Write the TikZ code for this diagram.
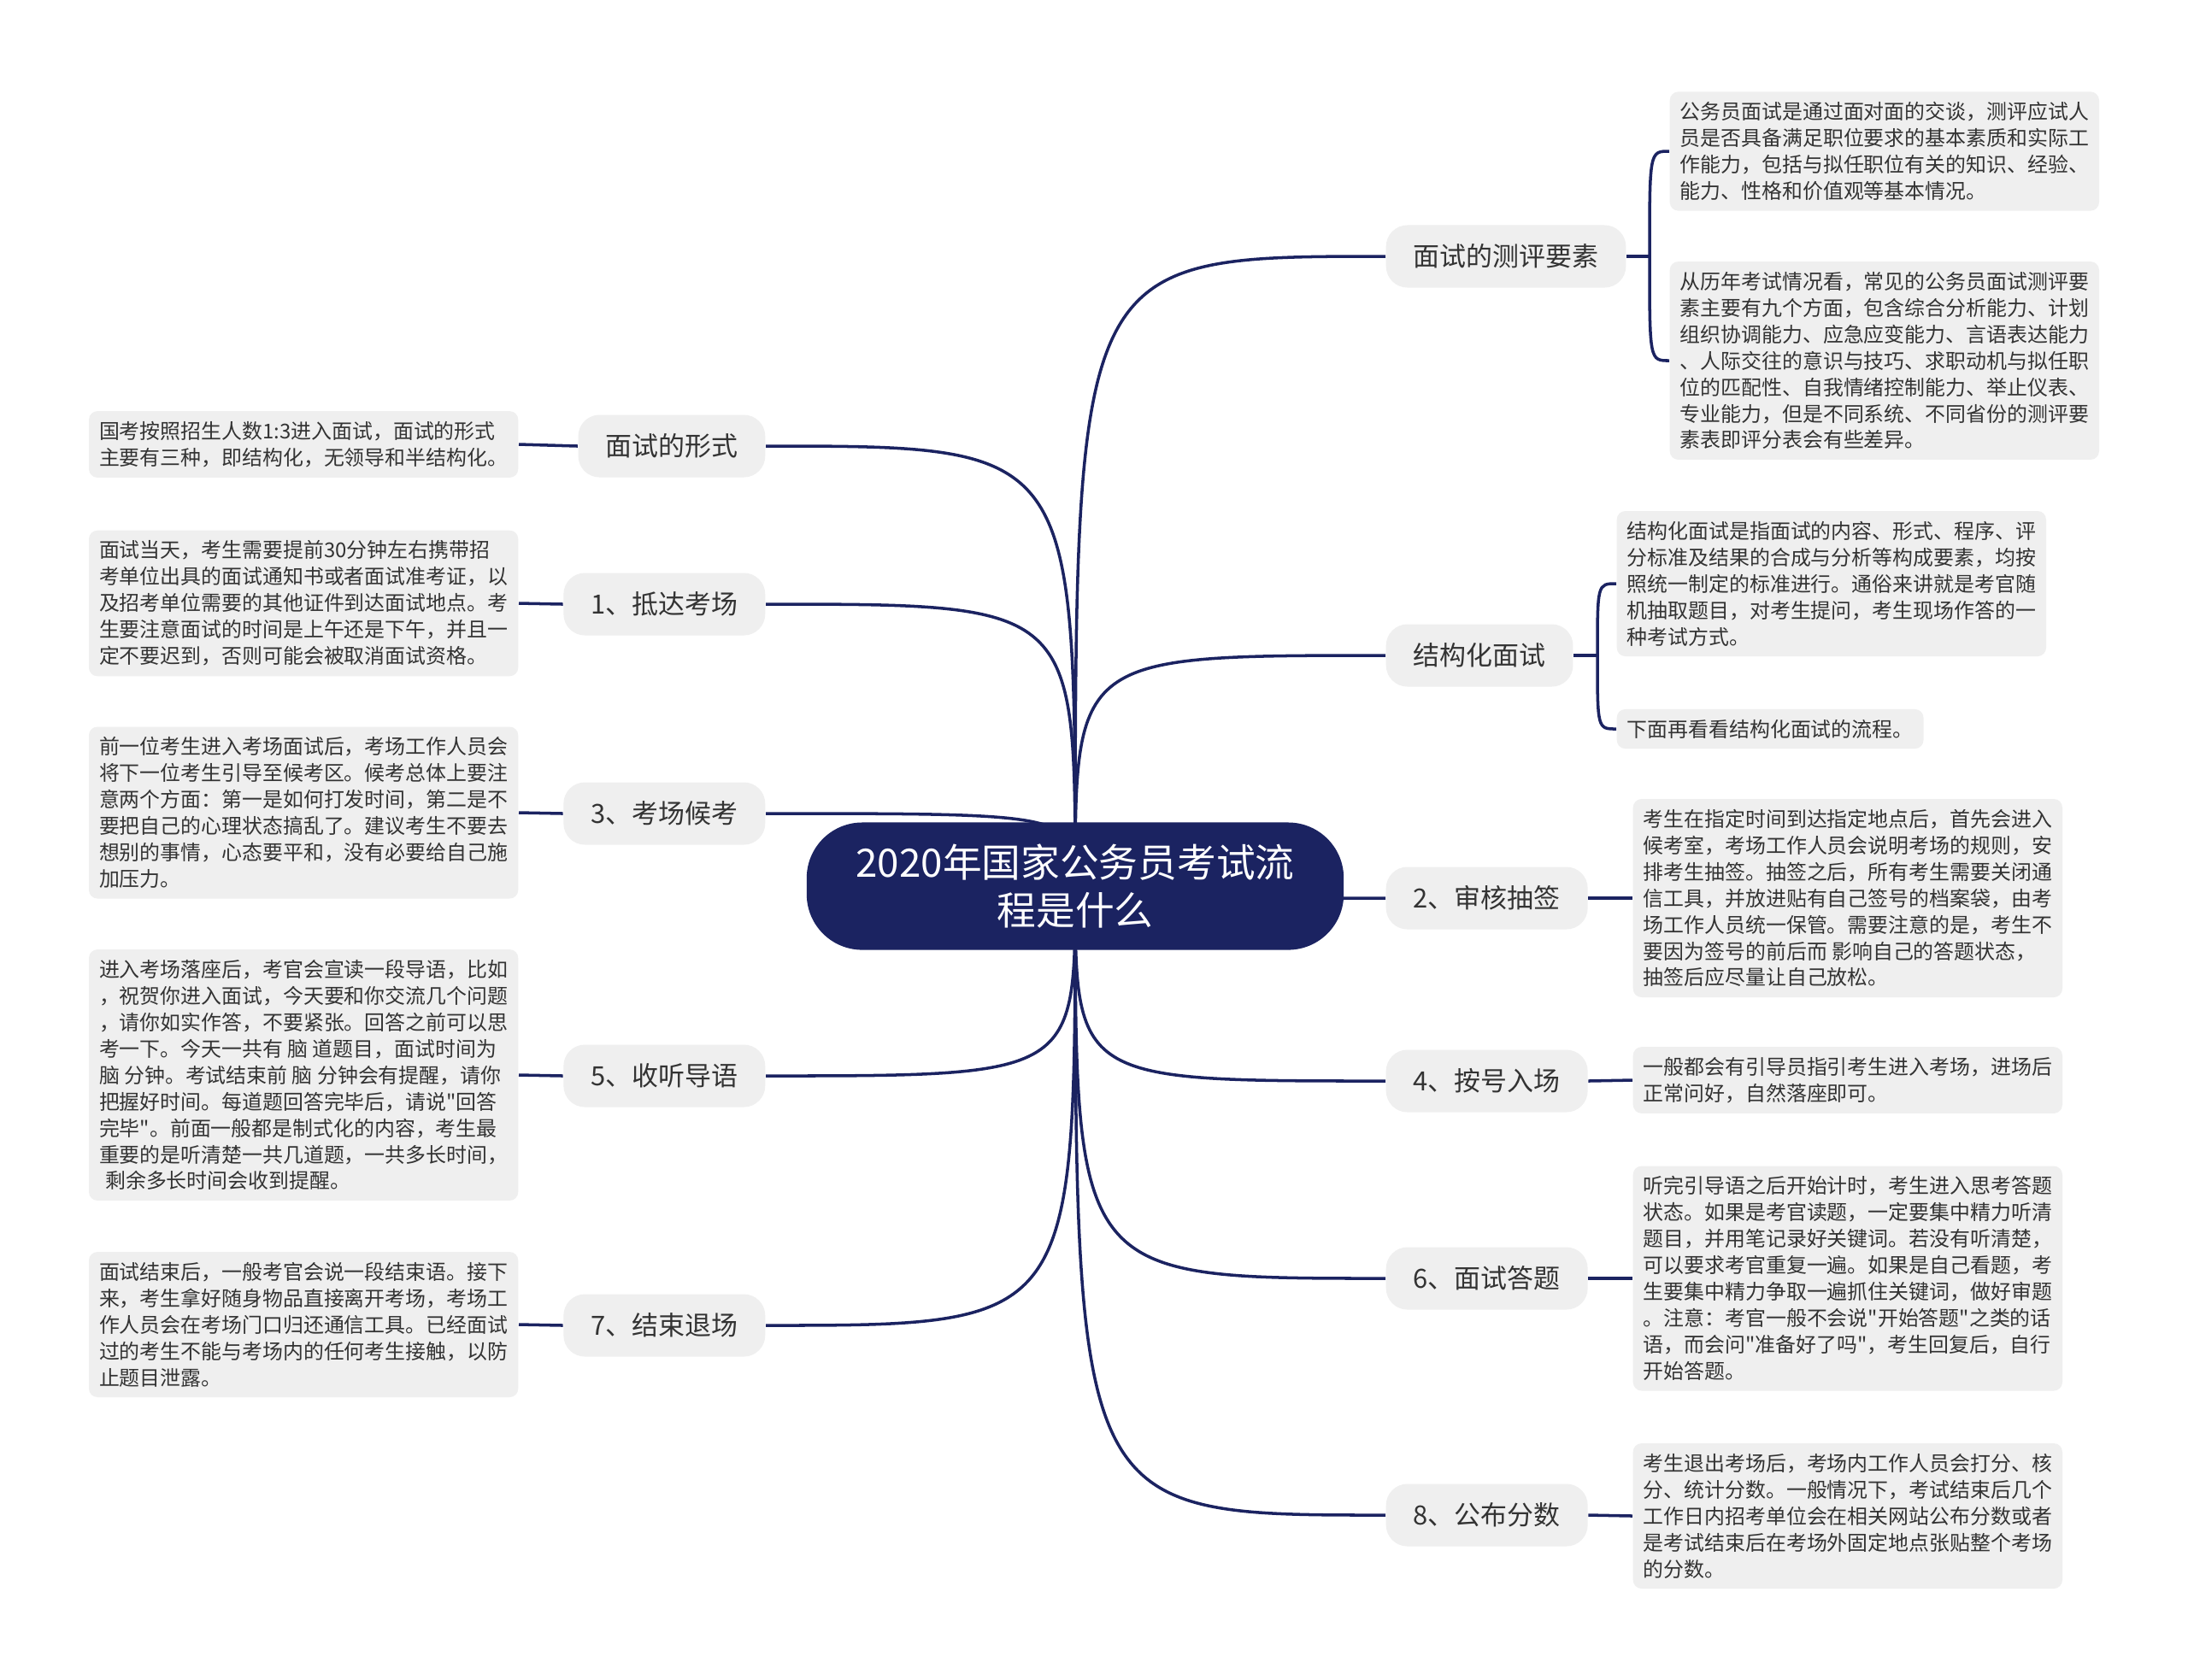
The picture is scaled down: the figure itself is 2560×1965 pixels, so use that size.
\documentclass[tikz,border=0pt]{standalone}
\usepackage{fontspec}
\setmainfont{Noto Sans CJK SC}[Ligatures=TeXOff]
\usetikzlibrary{backgrounds}
\definecolor{navy}{HTML}{1B2361}
\definecolor{boxgray}{HTML}{EFEFEF}
\definecolor{txtgray}{HTML}{333333}
\tikzset{
  rootbox/.style={fill=navy, text=white, rounded corners=0.65cm, align=center,
    minimum width=6.28cm, minimum height=1.49cm,
    font=\fontsize{13pt}{15.8pt}\selectfont},
  topic/.style={fill=boxgray, text=txtgray, rounded corners=0.25cm,
    minimum height=0.73cm, inner xsep=0.32cm,
    font=\fontsize{8.8pt}{10pt}\selectfont},
  leaf/.style={fill=boxgray, text=txtgray, rounded corners=0.1cm, align=left,
    inner sep=0.12cm, font=\fontsize{6.8pt}{8.8pt}\selectfont},
  conn/.style={draw=navy, line width=1pt}
}
\begin{document}
\begin{tikzpicture}[x=0.01cm, y=-0.01cm]
  \useasboundingbox (0,0) rectangle (2560,1965);

  \node[rootbox] (root) at (1258,1037) {2020年国家公务员考试流\\程是什么};

  % left topics
  \node[topic, anchor=east] (form)   at (896,522)  {面试的形式};
  \node[topic, anchor=east] (arrive) at (896,707)  {1、抵达考场};
  \node[topic, anchor=east] (wait)   at (896,952)  {3、考场候考};
  \node[topic, anchor=east] (listen) at (896,1259) {5、收听导语};
  \node[topic, anchor=east] (leave)  at (896,1551) {7、结束退场};

  % right topics
  \node[topic, anchor=west] (factor) at (1621,300)  {面试的测评要素};
  \node[topic, anchor=west] (struct) at (1621,767)  {结构化面试};
  \node[topic, anchor=west] (lots)   at (1621,1051) {2、审核抽签};
  \node[topic, anchor=west] (enter)  at (1621,1265) {4、按号入场};
  \node[topic, anchor=west] (answer) at (1621,1496) {6、面试答题};
  \node[topic, anchor=west] (score)  at (1621,1773) {8、公布分数};

  % left leaves
  \node[leaf, anchor=east] (form1) at (607,520) {国考按照招生人数1:3进入面试，面试的形式\\主要有三种，即结构化，无领导和半结构化。};
  \node[leaf, anchor=east] (arrive1) at (607,706) {面试当天，考生需要提前30分钟左右携带招\\考单位出具的面试通知书或者面试准考证，以\\及招考单位需要的其他证件到达面试地点。考\\生要注意面试的时间是上午还是下午，并且一\\定不要迟到，否则可能会被取消面试资格。};
  \node[leaf, anchor=east] (wait1) at (607,951) {前一位考生进入考场面试后，考场工作人员会\\将下一位考生引导至候考区。候考总体上要注\\意两个方面：第一是如何打发时间，第二是不\\要把自己的心理状态搞乱了。建议考生不要去\\想别的事情，心态要平和，没有必要给自己施\\加压力。};
  \node[leaf, anchor=east] (listen1) at (607,1258) {进入考场落座后，考官会宣读一段导语，比如\\，祝贺你进入面试，今天要和你交流几个问题\\，请你如实作答，不要紧张。回答之前可以思\\考一下。今天一共有 脑 道题目，面试时间为\\脑 分钟。考试结束前 脑 分钟会有提醒，请你\\把握好时间。每道题回答完毕后，请说"回答\\完毕"。前面一般都是制式化的内容，考生最\\重要的是听清楚一共几道题，一共多长时间，\\\hspace*{0.3em}剩余多长时间会收到提醒。};
  \node[leaf, anchor=east] (leave1) at (607,1550) {面试结束后，一般考官会说一段结束语。接下\\来，考生拿好随身物品直接离开考场，考场工\\作人员会在考场门口归还通信工具。已经面试\\过的考生不能与考场内的任何考生接触，以防\\止题目泄露。};

  % right leaves
  \node[leaf, anchor=west] (factor1) at (1953,177) {公务员面试是通过面对面的交谈，测评应试人\\员是否具备满足职位要求的基本素质和实际工\\作能力，包括与拟任职位有关的知识、经验、\\能力、性格和价值观等基本情况。};
  \node[leaf, anchor=west] (factor2) at (1953,422) {从历年考试情况看，常见的公务员面试测评要\\素主要有九个方面，包含综合分析能力、计划\\组织协调能力、应急应变能力、言语表达能力\\、人际交往的意识与技巧、求职动机与拟任职\\位的匹配性、自我情绪控制能力、举止仪表、\\专业能力，但是不同系统、不同省份的测评要\\素表即评分表会有些差异。};
  \node[leaf, anchor=west] (struct1) at (1891,683) {结构化面试是指面试的内容、形式、程序、评\\分标准及结果的合成与分析等构成要素，均按\\照统一制定的标准进行。通俗来讲就是考官随\\机抽取题目，对考生提问，考生现场作答的一\\种考试方式。};
  \node[leaf, anchor=west] (struct2) at (1891,853) {下面再看看结构化面试的流程。};
  \node[leaf, anchor=west] (lots1) at (1910,1051) {考生在指定时间到达指定地点后，首先会进入\\候考室，考场工作人员会说明考场的规则，安\\排考生抽签。抽签之后，所有考生需要关闭通\\信工具，并放进贴有自己签号的档案袋，由考\\场工作人员统一保管。需要注意的是，考生不\\要因为签号的前后而 影响自己的答题状态，\\抽签后应尽量让自己放松。};
  \node[leaf, anchor=west] (enter1) at (1910,1264) {一般都会有引导员指引考生进入考场，进场后\\正常问好，自然落座即可。};
  \node[leaf, anchor=west] (answer1) at (1910,1496) {听完引导语之后开始计时，考生进入思考答题\\状态。如果是考官读题，一定要集中精力听清\\题目，并用笔记录好关键词。若没有听清楚，\\可以要求考官重复一遍。如果是自己看题，考\\生要集中精力争取一遍抓住关键词，做好审题\\。注意：考官一般不会说"开始答题"之类的话\\语，而会问"准备好了吗"，考生回复后，自行\\开始答题。};
  \node[leaf, anchor=west] (score1) at (1910,1774) {考生退出考场后，考场内工作人员会打分、核\\分、统计分数。一般情况下，考试结束后几个\\工作日内招考单位会在相关网站公布分数或者\\是考试结束后在考场外固定地点张贴整个考场\\的分数。};

  \coordinate (jfactor) at (1930,300);
  \coordinate (jstruct) at (1869,767);

  \begin{scope}[on background layer]
    \fill[white] (0,0) rectangle (2560,1965);
    % root to topics
    \foreach \t in {form, arrive, wait, listen, leave}
      \draw[conn] (\t.east) .. controls (root.center |- \t.east) .. (root.center);
    \foreach \t in {factor, struct, lots, enter, answer, score}
      \draw[conn] (root.center) .. controls (root.center |- \t.west) .. (\t.west);

    % topics to leaves
    \foreach \t in {form, arrive, wait, listen, leave}
      \draw[conn] (\t.west) -- (\t1.east);
    \foreach \t in {lots, enter, answer, score}
      \draw[conn] (\t.east) -- (\t1.west);

    \draw[conn] (factor.east) -- (jfactor);
    \draw[conn] (jfactor) .. controls (jfactor |- factor1.west) .. (factor1.west);
    \draw[conn] (jfactor) .. controls (jfactor |- factor2.west) .. (factor2.west);
    \draw[conn] (struct.east) -- (jstruct);
    \draw[conn] (jstruct) .. controls (jstruct |- struct1.west) .. (struct1.west);
    \draw[conn] (jstruct) .. controls (jstruct |- struct2.west) .. (struct2.west);
  \end{scope}
\end{tikzpicture}
\end{document}
